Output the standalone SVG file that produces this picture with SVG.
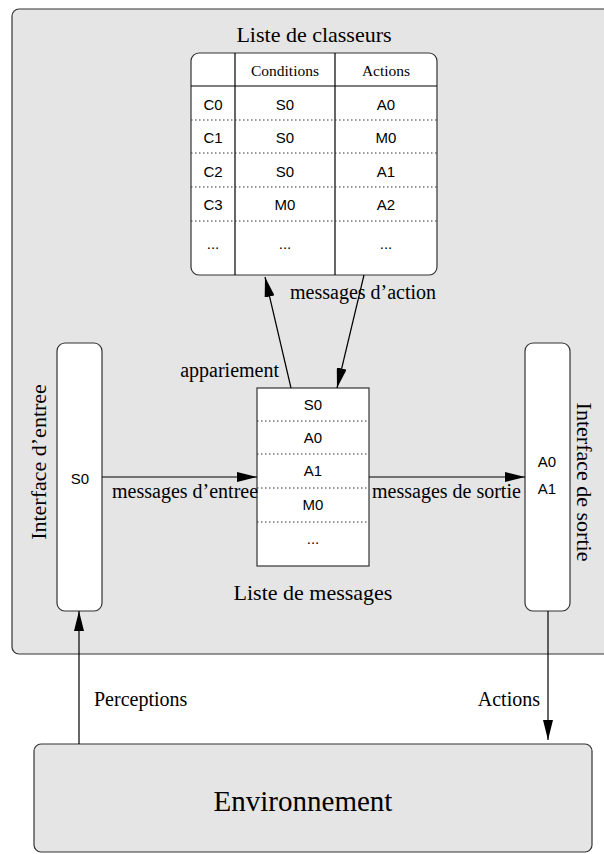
<svg xmlns="http://www.w3.org/2000/svg" width="604" height="854" viewBox="0 0 604 854">
<defs>
<style>
.serif{font-family:"Liberation Serif","Times New Roman",serif;fill:#000}
.sans{font-family:"Liberation Sans",Arial,sans-serif;font-size:15px;fill:#000;text-anchor:middle}
.box{fill:#e5e5e5;stroke:#333;stroke-width:1.2}
.white{fill:#fff;stroke:#333;stroke-width:1.2}
.dot{stroke:#333;stroke-width:1;stroke-dasharray:1.5 2.5;fill:none}
.line{stroke:#000;stroke-width:1.2;fill:none}
.conn{stroke:#000;stroke-width:1.2;fill:none;marker-end:url(#arr)}
</style>
<marker id="arr" markerWidth="20" markerHeight="10" refX="20" refY="5" orient="auto" markerUnits="userSpaceOnUse">
<path d="M0,0 L20,5 L0,10 Z" fill="#000"/>
</marker>
</defs>
<rect width="604" height="854" fill="#fff"/>
<g id="agent">
<rect class="box" x="12" y="9" width="700" height="645" rx="7"/>
</g>
<g id="classeurs">
<text class="serif" x="314" y="42" font-size="22" text-anchor="middle">Liste de classeurs</text>
<rect class="white" x="191" y="53" width="246" height="222" rx="8"/>
<line class="line" x1="235" y1="53" x2="235" y2="275"/>
<line class="line" x1="335" y1="53" x2="335" y2="275"/>
<line class="line" x1="191" y1="86" x2="437" y2="86"/>
<line class="dot" x1="191" y1="120" x2="437" y2="120"/>
<line class="dot" x1="191" y1="153" x2="437" y2="153"/>
<line class="dot" x1="191" y1="187" x2="437" y2="187"/>
<line class="dot" x1="191" y1="221" x2="437" y2="221"/>
<text class="serif" x="285" y="76" font-size="15.5" text-anchor="middle">Conditions</text>
<text class="serif" x="386" y="76" font-size="15.5" text-anchor="middle">Actions</text>
<text class="sans" x="213" y="110">C0</text><text class="sans" x="285" y="110">S0</text><text class="sans" x="386" y="110">A0</text>
<text class="sans" x="213" y="143">C1</text><text class="sans" x="285" y="143">S0</text><text class="sans" x="386" y="143">M0</text>
<text class="sans" x="213" y="177">C2</text><text class="sans" x="285" y="177">S0</text><text class="sans" x="386" y="177">A1</text>
<text class="sans" x="213" y="210">C3</text><text class="sans" x="285" y="210">M0</text><text class="sans" x="386" y="210">A2</text>
<text class="sans" x="213" y="249">...</text><text class="sans" x="285" y="249">...</text><text class="sans" x="386" y="249">...</text>
</g>
<g id="messages">
<rect class="white" x="257" y="388" width="112" height="178" rx="0"/>
<line class="dot" x1="257" y1="421" x2="369" y2="421"/>
<line class="dot" x1="257" y1="454" x2="369" y2="454"/>
<line class="dot" x1="257" y1="488" x2="369" y2="488"/>
<line class="dot" x1="257" y1="522" x2="369" y2="522"/>
<text class="sans" x="313" y="410">S0</text>
<text class="sans" x="313" y="443">A0</text>
<text class="sans" x="313" y="476">A1</text>
<text class="sans" x="313" y="510">M0</text>
<text class="sans" x="313" y="544">...</text>
<text class="serif" x="313" y="600" font-size="22" text-anchor="middle">Liste de messages</text>
</g>
<g id="entree">
<rect class="white" x="57" y="343" width="45" height="268" rx="8"/>
<text class="sans" x="80" y="484">S0</text>
<text class="serif" font-size="22" text-anchor="middle" transform="translate(46,462) rotate(-90)">Interface d’entree</text>
</g>
<g id="sortie">
<rect class="white" x="525" y="343" width="45" height="268" rx="8"/>
<text class="sans" x="547" y="467">A0</text>
<text class="sans" x="547" y="494">A1</text>
<text class="serif" font-size="22" text-anchor="middle" transform="translate(577,482) rotate(90)">Interface de sortie</text>
</g>
<g id="environnement">
<rect class="box" x="34" y="744" width="558" height="108" rx="7"/>
<text class="serif" x="303" y="811" font-size="29" text-anchor="middle">Environnement</text>
</g>
<g id="connectors">
<line class="conn" x1="291" y1="388" x2="265" y2="277"/>
<line class="conn" x1="364" y1="275" x2="337" y2="388"/>
<line class="conn" x1="102" y1="477" x2="257" y2="477"/>
<line class="conn" x1="369" y1="477" x2="525" y2="477"/>
<line class="conn" x1="79" y1="744" x2="79" y2="611"/>
<line class="conn" x1="548" y1="611" x2="548" y2="740"/>
<text class="serif" x="279" y="377" font-size="20" text-anchor="end">appariement</text>
<text class="serif" x="290" y="299" font-size="20">messages d’action</text>
<text class="serif" x="112" y="498" font-size="20">messages d’entree</text>
<text class="serif" x="372" y="498" font-size="20">messages de sortie</text>
<text class="serif" x="94" y="706" font-size="20">Perceptions</text>
<text class="serif" x="540" y="706" font-size="20" text-anchor="end">Actions</text>
</g>
</svg>
